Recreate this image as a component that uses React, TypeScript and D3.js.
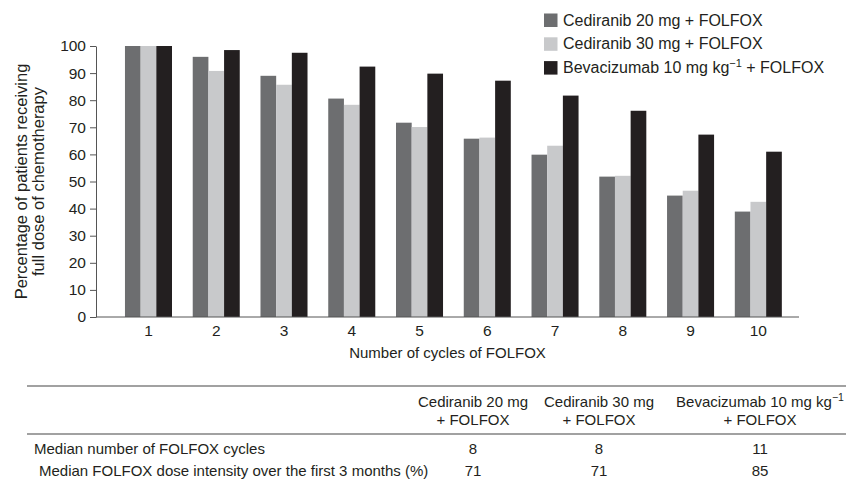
import React, { useEffect, useRef } from 'react';
import * as d3 from 'd3';

// cycles of FOLFOX on the x axis
const cycles = ['1', '2', '3', '4', '5', '6', '7', '8', '9', '10'];
const seriesNames = ['Cediranib 20 mg + FOLFOX', 'Cediranib 30 mg + FOLFOX', 'Bevacizumab 10 mg kg'];
const seriesKeys = ['ced20', 'ced30', 'bev10'];
const seriesColors = ['#6d6e70', '#c8c9cb', '#231f20'];

// percentage of patients receiving full dose
const ced20 = [100, 96, 89, 80.6, 71.7, 65.8, 59.9, 51.8, 44.8, 38.9];
const ced30 = [100, 90.8, 85.7, 78.3, 70.1, 66.2, 63.2, 52.1, 46.6, 42.5];
const bev10 = [100, 98.5, 97.5, 92.4, 89.8, 87.2, 81.7, 76.1, 67.3, 61.0];
const yTicks = [0, 10, 20, 30, 40, 50, 60, 70, 80, 90, 100];

// summary table below the chart
const tableRows = ['Median number of FOLFOX cycles', 'Median FOLFOX dose intensity over the first 3 months (%)'];
const medianCycles = [8, 8, 11];
const medianIntensity = [71, 71, 85];

const FONT = '"Liberation Sans", Arial, Helvetica, sans-serif';

export default function App() {
    const ref = useRef<SVGSVGElement>(null);

    useEffect(() => {
        const svg = d3.select(ref.current);
        svg.selectAll('*').remove();

        const left = 96, right = 799, top = 46, bottom = 317;

        const data = cycles.map((c, i) => ({ cycle: c, ced20: ced20[i], ced30: ced30[i], bev10: bev10[i] }));

        const x = d3.scaleBand<string>()
            .domain(cycles)
            .range([114.6, 792.2])
            .paddingInner(0.306)
            .paddingOuter(0.153);
        const xs = d3.scaleBand<string>().domain(seriesKeys).range([0, x.bandwidth()]);
        const y = d3.scaleLinear().domain([0, 100]).range([bottom, top]);

        // bars
        const groups = svg.append('g').selectAll('g')
            .data(data)
            .enter().append('g')
            .attr('transform', d => 'translate(' + x(d.cycle) + ',0)');
        groups.selectAll('rect')
            .data(d => seriesKeys.map((k, j) => ({ key: k, value: (d as any)[k] as number, j })))
            .enter().append('rect')
            .attr('x', d => xs(d.key)!)
            .attr('y', d => y(d.value))
            .attr('width', xs.bandwidth())
            .attr('height', d => bottom - y(d.value))
            .attr('fill', d => seriesColors[d.j]);

        // y axis
        const yAxis = svg.append('g')
            .attr('transform', 'translate(' + left + ',0)')
            .call(d3.axisLeft(y).tickValues(yTicks).tickSize(6).tickSizeOuter(0).tickPadding(4));
        yAxis.selectAll('path, line').attr('stroke', '#555');
        yAxis.selectAll('text').attr('font-family', FONT).attr('font-size', 15.5).attr('fill', '#231f20');

        // x baseline and labels
        svg.append('line')
            .attr('x1', left).attr('x2', right)
            .attr('y1', bottom).attr('y2', bottom)
            .attr('stroke', '#555');
        const xAxis = svg.append('g')
            .attr('transform', 'translate(0,' + bottom + ')')
            .call(d3.axisBottom(x).tickSize(0).tickPadding(8));
        xAxis.select('.domain').remove();
        xAxis.selectAll('text').attr('font-family', FONT).attr('font-size', 15.5).attr('fill', '#231f20');

        svg.append('text')
            .attr('x', (left + right) / 2).attr('y', 358)
            .attr('text-anchor', 'middle')
            .attr('font-family', FONT).attr('font-size', 15).attr('fill', '#231f20')
            .text('Number of cycles of FOLFOX');

        const yTitle = svg.append('g')
            .attr('transform', 'translate(0,' + (top + bottom) / 2 + ') rotate(-90)')
            .attr('font-family', FONT).attr('font-size', 16.5).attr('fill', '#231f20')
            .attr('text-anchor', 'middle');
        yTitle.append('text').attr('x', 0).attr('y', 27).text('Percentage of patients receiving');
        yTitle.append('text').attr('x', 0).attr('y', 44).text('full dose of chemotherapy');

        // legend
        const legend = svg.append('g').attr('font-family', FONT).attr('font-size', 16).attr('fill', '#231f20');
        seriesNames.forEach((name, i) => {
            const ly = 13.5 + i * 23.8;
            legend.append('rect')
                .attr('x', 544).attr('y', ly)
                .attr('width', 13.5).attr('height', 13.5)
                .attr('fill', seriesColors[i]);
            const t = legend.append('text').attr('x', 563).attr('y', ly + 12);
            t.append('tspan').text(name);
            if (i === 2) {
                t.append('tspan').attr('dy', -6).attr('font-size', 11).text('\u22121');
                t.append('tspan').attr('dy', 6).text(' + FOLFOX');
            }
        });

        // table
        const tbl = svg.append('g').attr('font-family', FONT).attr('font-size', 15).attr('fill', '#231f20');
        [386, 434].forEach(ly => {
            tbl.append('line').attr('x1', 27).attr('x2', 846).attr('y1', ly).attr('y2', ly)
                .attr('stroke', '#444').attr('stroke-width', 1.2);
        });
        const colX = [473, 599, 760];
        const headers = ['Cediranib 20 mg', 'Cediranib 30 mg', 'Bevacizumab 10 mg kg'];
        headers.forEach((h, i) => {
            const t = tbl.append('text').attr('x', colX[i]).attr('y', 407).attr('text-anchor', 'middle');
            t.append('tspan').text(h);
            if (i === 2) t.append('tspan').attr('dy', -6).attr('font-size', 10.5).text('\u22121');
            tbl.append('text').attr('x', colX[i]).attr('y', 425).attr('text-anchor', 'middle').text('+ FOLFOX');
        });
        tbl.append('text').attr('x', 34).attr('y', 454).text(tableRows[0]);
        tbl.append('text').attr('x', 39).attr('y', 476).text(tableRows[1]);
        medianCycles.forEach((v, i) => {
            tbl.append('text').attr('x', colX[i]).attr('y', 454).attr('text-anchor', 'middle').text(v);
        });
        medianIntensity.forEach((v, i) => {
            tbl.append('text').attr('x', colX[i]).attr('y', 476).attr('text-anchor', 'middle').text(v);
        });
    }, []);

    return (
        <svg ref={ref} width={846} height={481}
            style={{ position: 'absolute', left: 0, top: 0, background: '#fff' }} />
    );
}
